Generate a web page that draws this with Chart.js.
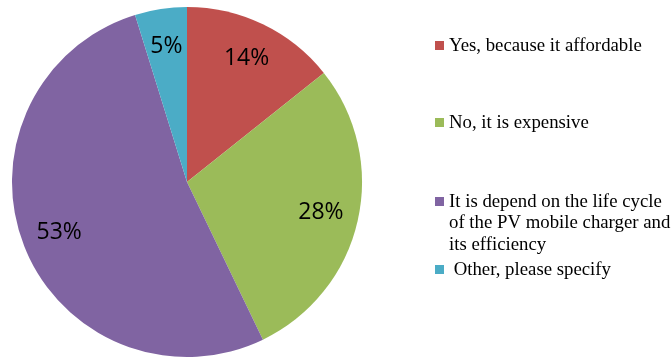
<!DOCTYPE html>
<html>
<head>
<meta charset="utf-8">
<script src="https://cdn.jsdelivr.net/npm/chart.js@4.4.0/dist/chart.umd.min.js"></script>
<style>
    html, body { margin: 0; padding: 0; background: #fff; }
    #wrap { width: 671px; height: 360px; position: relative; }
</style>
</head>
<body>
<div id="wrap"><canvas id="pie"></canvas></div>
<script>
// Data
const categories = [
    'Yes, because it affordable',
    'No, it is expensive',
    ['It is depend on the life cycle', 'of the PV mobile charger and', 'its efficiency'],
    ' Other, please specify'
];
const shares = [14.3, 28.6, 52.4, 4.8];
const shareLabels = ['14%', '28%', '53%', '5%'];
const sliceColors = ['#C0504D', '#9BBB59', '#8064A2', '#4BACC6'];

// Percent labels inside the slices
const sliceLabels = {
    id: 'sliceLabels',
    afterDatasetsDraw(chart) {
        const ctx = chart.ctx;
        const meta = chart.getDatasetMeta(0);
        ctx.save();
        ctx.font = '23px "Open Sans"';
        ctx.fillStyle = '#000';
        ctx.textAlign = 'center';
        ctx.textBaseline = 'middle';
        meta.data.forEach((arc, i) => {
            const mid = (arc.startAngle + arc.endAngle) / 2;
            const r = arc.outerRadius * 0.785;
            ctx.fillText(shareLabels[i], arc.x + Math.cos(mid) * r, arc.y + Math.sin(mid) * r);
        });
        ctx.restore();
    }
};

// Legend on the right, laid out like the original
const sideLegend = {
    id: 'sideLegend',
    afterDraw(chart) {
        const ctx = chart.ctx;
        const itemY = [45, 122, 201, 269];
        const lineH = 21.5;
        ctx.save();
        ctx.font = '18.8px "Liberation Serif"';
        ctx.textBaseline = 'middle';
        categories.forEach((label, i) => {
            ctx.fillStyle = sliceColors[i];
            ctx.fillRect(435, itemY[i] - 4, 9, 9);
            ctx.fillStyle = '#000';
            const lines = Array.isArray(label) ? label : [label];
            lines.forEach((line, j) => {
                ctx.fillText(line, 449, itemY[i] + 1 + j * lineH);
            });
        });
        ctx.restore();
    }
};

new Chart(document.getElementById('pie'), {
    type: 'pie',
    data: {
        labels: categories,
        datasets: [{
            data: shares,
            backgroundColor: sliceColors,
            borderWidth: 0
        }]
    },
    options: {
        responsive: true,
        maintainAspectRatio: false,
        animation: false,
        layout: { padding: { left: 12, top: 7, right: 309, bottom: 3 } },
        plugins: {
            legend: { display: false },
            tooltip: { enabled: false }
        }
    },
    plugins: [sliceLabels, sideLegend]
});
</script>
</body>
</html>
